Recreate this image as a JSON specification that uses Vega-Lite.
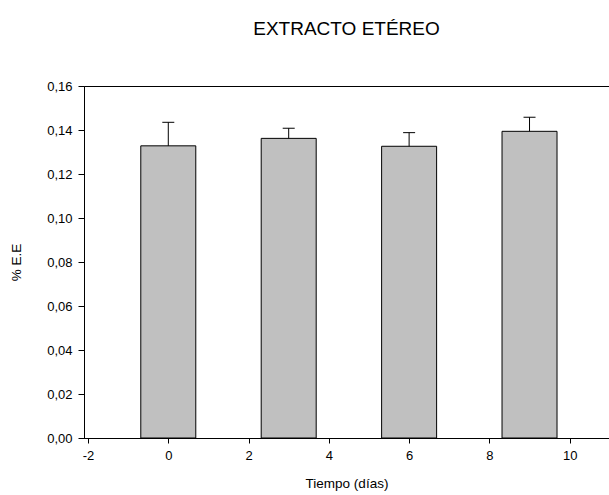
{
  "$schema": "https://vega.github.io/schema/vega-lite/v6.json",
  "width": 525,
  "height": 352,
  "autosize": "none",
  "padding": {"left": 84, "top": 86, "right": 0, "bottom": 57},
  "background": "white",
  "config": {
    "font": "Liberation Sans",
    "view": {"stroke": "#000", "strokeWidth": 1},
    "axis": {"grid": false, "domainColor": "#000", "tickColor": "#000", "labelColor": "#000", "titleColor": "#000", "labelFontSize": 13, "titleFontSize": 13.5, "titleFontWeight": "normal", "labelFont": "Liberation Sans", "titleFont": "Liberation Sans"}
  },
  "title": {"text": "EXTRACTO ETÉREO", "fontSize": 19, "fontWeight": "normal", "font": "Liberation Sans", "color": "#000", "anchor": "middle", "baseline": "alphabetic", "offset": 26},
  "data": {"values": [
    {"dia": 0, "ee": 0.1328, "sup": 0.1435},
    {"dia": 3, "ee": 0.1362, "sup": 0.1408},
    {"dia": 6, "ee": 0.1326, "sup": 0.1388},
    {"dia": 9, "ee": 0.1394, "sup": 0.1458}
  ]},
  "layer": [
    {
      "mark": {"type": "bar", "size": 55, "fill": "#c0c0c0", "stroke": "#000", "strokeWidth": 1},
      "encoding": {
        "x": {"field": "dia", "type": "quantitative", "scale": {"domain": [-2.1, 10.98], "nice": false, "zero": false, "padding": 0},
              "axis": {"title": "Tiempo (días)", "values": [-2, 0, 2, 4, 6, 8, 10], "labelExpr": "'' + datum.value", "tickSize": 5, "labelPadding": 6, "titlePadding": 14}},
        "y": {"field": "ee", "type": "quantitative", "scale": {"domain": [0, 0.16], "nice": false},
              "axis": {"title": "% E.E", "values": [0, 0.02, 0.04, 0.06, 0.08, 0.1, 0.12, 0.14, 0.16], "labelExpr": "replace(format(datum.value, '.2f'), '.', ',')", "tickSize": 6, "labelPadding": 6, "titlePadding": 23}}
      }
    },
    {
      "mark": {"type": "rule", "color": "#000", "strokeWidth": 1},
      "encoding": {
        "x": {"field": "dia", "type": "quantitative"},
        "y": {"field": "ee", "type": "quantitative"},
        "y2": {"field": "sup"}
      }
    },
    {
      "mark": {"type": "tick", "orient": "horizontal", "size": 12, "thickness": 1, "color": "#000", "opacity": 1},
      "encoding": {
        "x": {"field": "dia", "type": "quantitative"},
        "y": {"field": "sup", "type": "quantitative"}
      }
    }
  ]
}
